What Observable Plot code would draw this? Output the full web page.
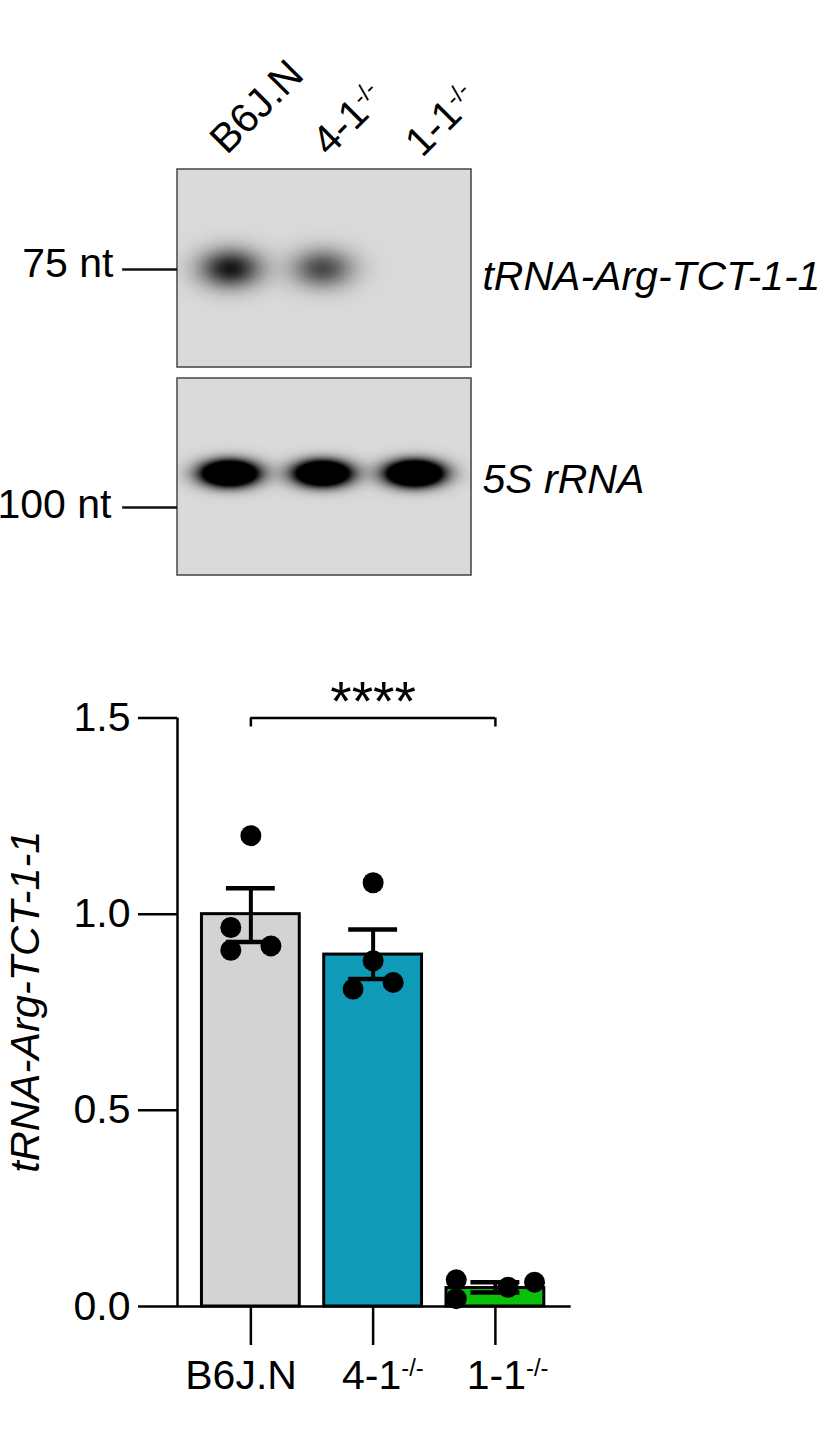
<!DOCTYPE html>
<html>
<head>
<meta charset="utf-8">
<script src="https://cdn.jsdelivr.net/npm/d3@7"></script>
<script src="https://cdn.jsdelivr.net/npm/@observablehq/plot@0.6"></script>
<style>
html,body{margin:0;padding:0;background:#fff}
svg{display:block;background:#fff}
</style>
</head>
<body>
<div id="root"></div>
<script>
// Chart values
const groups = ["B6J.N", "4-1-/-", "1-1-/-"];
const groupIndex = [0, 1, 2];
const barColors = ["#d3d3d3", "#0f9bb8", "#0abf0a"];
const means = [1.0, 0.897, 0.047];
const errLow = [0.929, 0.835, 0.036];
const errHigh = [1.066, 0.961, 0.062];
const pointGroup = [0, 0, 0, 0, 1, 1, 1, 1, 2, 2, 2, 2];
const pointOffset = [0, -0.164, -0.164, 0.164, 0, 0, -0.164, 0.164, -0.32, -0.32, 0.104, 0.32];
const pointValue = [1.2, 0.966, 0.908, 0.919, 1.08, 0.881, 0.809, 0.826, 0.068, 0.02, 0.049, 0.062];
const yTicks = [0, 0.5, 1, 1.5];
const labelShift = [-0.08, 0.08, 0.1];

// Blot bands: lane, strength
const tRNALanes = [0.01, 1.0];
const tRNAStrength = [0.9, 0.66];
const rRNALanes = [0, 1.0, 1.99];
const rRNAStrength = [2.6, 2.5, 2.7];
const laneHeads = [-0.03, 1.07, 2.07];
const laneHeadRows = [-0.07, -0.06, -0.055];

const FONT = "'Liberation Sans', Arial, sans-serif";
const root = document.getElementById("root");

function supers(svg) {
  d3.select(svg).selectAll("text").each(function () {
    const t = this.textContent;
    if (t.endsWith("-/-") && this.children.length <= 1) {
      const base = t.slice(0, -3);
      const el = d3.select(this);
      el.text(null);
      el.append("tspan").text(base);
      el.append("tspan").attr("dy", "-0.55em").attr("font-size", "0.58em").text("-/-");
    }
  });
  return svg;
}

function blot({height, marginTop, marginBottom, lanes, strength, row, sx, sy, extra}) {
  const field = (x, y) => {
    let v = 0;
    lanes.forEach((l, i) => {
      v += strength[i] * Math.exp(-0.5 * (((x - l) / sx) ** 2 + ((y - row) / sy) ** 2));
    });
    return Math.min(1, v);
  };
  const x0 = -0.56, x1 = 2.602;
  return Plot.plot({
    width: 830, height, marginTop, marginBottom, marginLeft: 177, marginRight: 359,
    style: {fontFamily: FONT, fontSize: "41px", background: "#fff", overflow: "visible"},
    x: {domain: [x0, x1], axis: null},
    y: {domain: [0, 1], reverse: true, axis: null},
    color: {type: "linear", domain: [0, 1], range: ["#dadada", "#000000"], legend: false},
    marks: [
      Plot.raster({fill: field, x1: x0, x2: x1, y1: 0, y2: 1, pixelSize: 1}),
      Plot.rect([0], {x1: x0, x2: x1, y1: 0, y2: 1, fill: "none", stroke: "#444", strokeWidth: 1.5}),
      ...extra
    ]
  });
}

const laneLabelPlot = blot({
  height: 372, marginTop: 169, marginBottom: 5,
  lanes: tRNALanes, strength: tRNAStrength, row: 0.5, sx: 0.23, sy: 0.068,
  extra: [
    Plot.text(groups, {x: laneHeads, y: laneHeadRows, text: d => d, rotate: -45,
      textAnchor: "start", lineAnchor: "bottom", fontSize: 41, fill: "#000"}),
    Plot.ruleY([0.505], {x1: -1.15, x2: -0.56, stroke: "#111", strokeWidth: 2.4}),
    Plot.text(["75 nt"], {x: [-1.25], y: [0.475], textAnchor: "end", fontSize: 41, fill: "#000"}),
    Plot.text(["tRNA-Arg-TCT-1-1"], {x: [2.72], y: [0.54], textAnchor: "start", fontSize: 41, fontStyle: "italic", fill: "#000"})
  ]
});
supers(laneLabelPlot);
root.appendChild(laneLabelPlot);

const lowerBlot = blot({
  height: 268, marginTop: 6, marginBottom: 65,
  lanes: rRNALanes, strength: rRNAStrength, row: 0.482, sx: 0.205, sy: 0.044,
  extra: [
    Plot.ruleY([0.655], {x1: -1.15, x2: -0.56, stroke: "#111", strokeWidth: 2.4}),
    Plot.text(["100 nt"], {x: [-1.27], y: [0.64], textAnchor: "end", fontSize: 41, fill: "#000"}),
    Plot.text(["5S rRNA"], {x: [2.72], y: [0.515], textAnchor: "start", fontSize: 41, fontStyle: "italic", fill: "#000"})
  ]
});
root.appendChild(lowerBlot);

const SW = 2.5;
const chart = Plot.plot({
  width: 830, height: 808, marginTop: 77.5, marginBottom: 142, marginLeft: 177, marginRight: 259.3,
  style: {fontFamily: FONT, fontSize: "41px", background: "#fff", overflow: "visible"},
  x: {domain: [-0.6, 2.62], axis: null},
  y: {domain: [0, 1.5], axis: null},
  marks: [
    Plot.rect(groupIndex, {x1: d => d - 0.4, x2: d => d + 0.4, y1: 0, y2: d => means[d],
      fill: d => barColors[d], stroke: "#000", strokeWidth: 3}),
    Plot.ruleX(groupIndex, {x: d => d, y1: d => errLow[d], y2: d => errHigh[d], stroke: "#000", strokeWidth: 4}),
    Plot.ruleY(groupIndex, {y: d => errHigh[d], x1: d => d - 0.2, x2: d => d + 0.2, stroke: "#000", strokeWidth: 4.5}),
    Plot.ruleY(groupIndex, {y: d => errLow[d], x1: d => d - 0.2, x2: d => d + 0.2, stroke: "#000", strokeWidth: 4.5}),
    Plot.dot(pointValue, {x: (d, i) => pointGroup[i] + pointOffset[i], y: d => d, r: 10.5, fill: "#000", stroke: "none"}),
    Plot.ruleX([-0.6], {y1: 0, y2: 1.5, stroke: "#000", strokeWidth: SW}),
    Plot.ruleY([0], {x1: -0.6, x2: 2.62, stroke: "#000", strokeWidth: SW}),
    Plot.axisY({ticks: yTicks, tickSize: 39, tickPadding: 8, tickFormat: ".1f", label: null, strokeWidth: SW, fontSize: 41, stroke: "#000", fill: "#000"}),
    Plot.axisX({ticks: groupIndex, tickSize: 39, tickFormat: () => "", label: null, strokeWidth: SW, stroke: "#000"}),
    Plot.text(groups, {x: (d, i) => i + labelShift[i], y: [-0.176, -0.176, -0.176], text: d => d, fontSize: 41, fill: "#000"}),
    Plot.text(["tRNA-Arg-TCT-1-1"], {x: [-1.84], y: [0.777], rotate: -90, fontSize: 41.5, fontStyle: "italic", fill: "#000"}),
    Plot.ruleY([1.5], {x1: 0, x2: 2, stroke: "#000", strokeWidth: SW}),
    Plot.ruleX([0, 2], {y1: 1.5, y2: 1.477, stroke: "#000", strokeWidth: SW}),
    Plot.text(["****"], {x: [1], y: [1.54], fontSize: 55, fill: "#000"})
  ]
});
supers(chart);
root.appendChild(chart);
</script>
</body>
</html>
